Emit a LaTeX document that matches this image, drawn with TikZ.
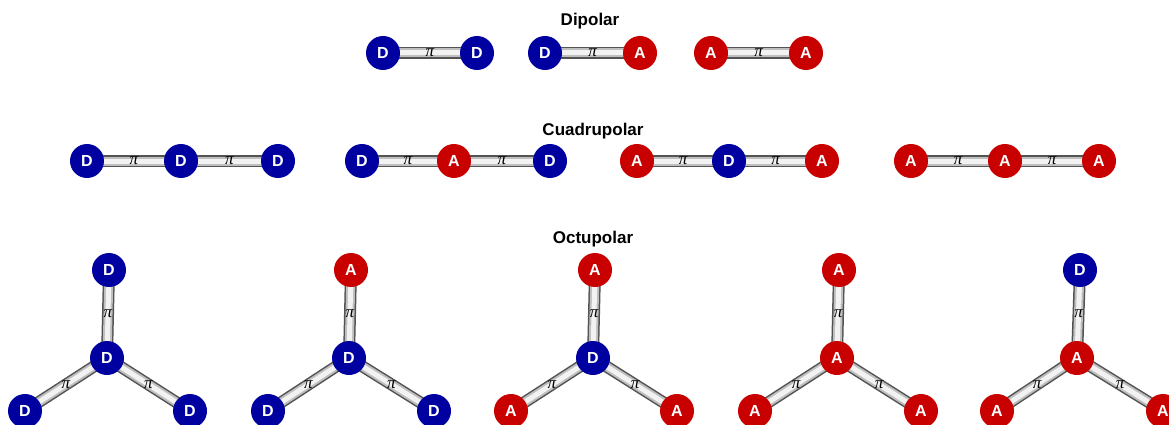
\documentclass[tikz,border=0pt]{standalone}
\usepackage{fontspec}
\setsansfont{Liberation Sans}
\newfontfamily\pifont{Liberation Serif}
\usepackage{xcolor}
\usetikzlibrary{backgrounds}
\definecolor{donorblue}{RGB}{0,0,160}
\definecolor{acceptorred}{RGB}{200,0,0}
\tikzset{
  don/.style={circle, fill=donorblue, minimum size=34pt, inner sep=0pt, text=white, font=\sffamily\bfseries\fontsize{16}{16}\selectfont},
  acc/.style={don, fill=acceptorred},
  bridge/.style={line width=12pt, draw=gray!65!black, postaction={draw=gray!50, line width=9pt}, postaction={draw=gray!10, line width=5pt}},
  pilabel/.style={font=\pifont\itshape\fontsize{17}{17}\selectfont, inner sep=0pt},
  heading/.style={font=\sffamily\bfseries\fontsize{17}{20}\selectfont}
}

\begin{document}
\begin{tikzpicture}[x=1pt, y=-1pt]
\useasboundingbox (0,0) rectangle (1169,425);
\clip (0,0) rectangle (1169,425);

\node[heading] (dipolar) at (590,21) {Dipolar};
\node[don] (d1a) at (383,53) {D};
\node[don] (d1b) at (477,53) {D};
\node[don] (d2a) at (545,53) {D};
\node[acc] (d2b) at (640,53) {A};
\node[acc] (d3a) at (711,53) {A};
\node[acc] (d3b) at (806,53) {A};

\node[heading] (cuadrupolar) at (593,131) {Cuadrupolar};
\node[don] (c1a) at (87,161) {D};
\node[don] (c1b) at (181,161) {D};
\node[don] (c1c) at (278,161) {D};
\node[don] (c2a) at (362,161) {D};
\node[acc] (c2b) at (454,161) {A};
\node[don] (c2c) at (550,161) {D};
\node[acc] (c3a) at (637,161) {A};
\node[don] (c3b) at (729,161) {D};
\node[acc] (c3c) at (822,161) {A};
\node[acc] (c4a) at (911,161) {A};
\node[acc] (c4b) at (1005,161) {A};
\node[acc] (c4c) at (1099,161) {A};

\node[heading] (octupolar) at (593,239) {Octupolar};
\node[don] (o1t) at (109,270) {D};
\node[don] (o1c) at (107,358) {D};
\node[don] (o1l) at (25,411) {D};
\node[don] (o1r) at (190,411) {D};
\node[acc] (o2t) at (351,270) {A};
\node[don] (o2c) at (349,358) {D};
\node[don] (o2l) at (268,411) {D};
\node[don] (o2r) at (434,411) {D};
\node[acc] (o3t) at (595,270) {A};
\node[don] (o3c) at (593,358) {D};
\node[acc] (o3l) at (511,411) {A};
\node[acc] (o3r) at (677,411) {A};
\node[acc] (o4t) at (839,270) {A};
\node[acc] (o4c) at (837,358) {A};
\node[acc] (o4l) at (755,411) {A};
\node[acc] (o4r) at (921,411) {A};
\node[don] (o5t) at (1080,270) {D};
\node[acc] (o5c) at (1077,358) {A};
\node[acc] (o5l) at (997,411) {A};
\node[acc] (o5r) at (1163,411) {A};

\begin{scope}[on background layer]
\draw[bridge] (d1a.center) -- node[pilabel] {π} (d1b.center);
\draw[bridge] (d2a.center) -- node[pilabel] {π} (d2b.center);
\draw[bridge] (d3a.center) -- node[pilabel] {π} (d3b.center);
\draw[bridge] (c1a.center) -- node[pilabel] {π} (c1b.center) -- node[pilabel] {π} (c1c.center);
\draw[bridge] (c2a.center) -- node[pilabel] {π} (c2b.center) -- node[pilabel] {π} (c2c.center);
\draw[bridge] (c3a.center) -- node[pilabel] {π} (c3b.center) -- node[pilabel] {π} (c3c.center);
\draw[bridge] (c4a.center) -- node[pilabel] {π} (c4b.center) -- node[pilabel] {π} (c4c.center);
\draw[bridge] (o1c.center) -- node[pilabel] {π} (o1t.center);
\draw[bridge] (o1c.center) -- node[pilabel] {π} (o1l.center);
\draw[bridge] (o1c.center) -- node[pilabel] {π} (o1r.center);
\draw[bridge] (o2c.center) -- node[pilabel] {π} (o2t.center);
\draw[bridge] (o2c.center) -- node[pilabel] {π} (o2l.center);
\draw[bridge] (o2c.center) -- node[pilabel] {π} (o2r.center);
\draw[bridge] (o3c.center) -- node[pilabel] {π} (o3t.center);
\draw[bridge] (o3c.center) -- node[pilabel] {π} (o3l.center);
\draw[bridge] (o3c.center) -- node[pilabel] {π} (o3r.center);
\draw[bridge] (o4c.center) -- node[pilabel] {π} (o4t.center);
\draw[bridge] (o4c.center) -- node[pilabel] {π} (o4l.center);
\draw[bridge] (o4c.center) -- node[pilabel] {π} (o4r.center);
\draw[bridge] (o5c.center) -- node[pilabel] {π} (o5t.center);
\draw[bridge] (o5c.center) -- node[pilabel] {π} (o5l.center);
\draw[bridge] (o5c.center) -- node[pilabel] {π} (o5r.center);
\end{scope}
\end{tikzpicture}
\end{document}
